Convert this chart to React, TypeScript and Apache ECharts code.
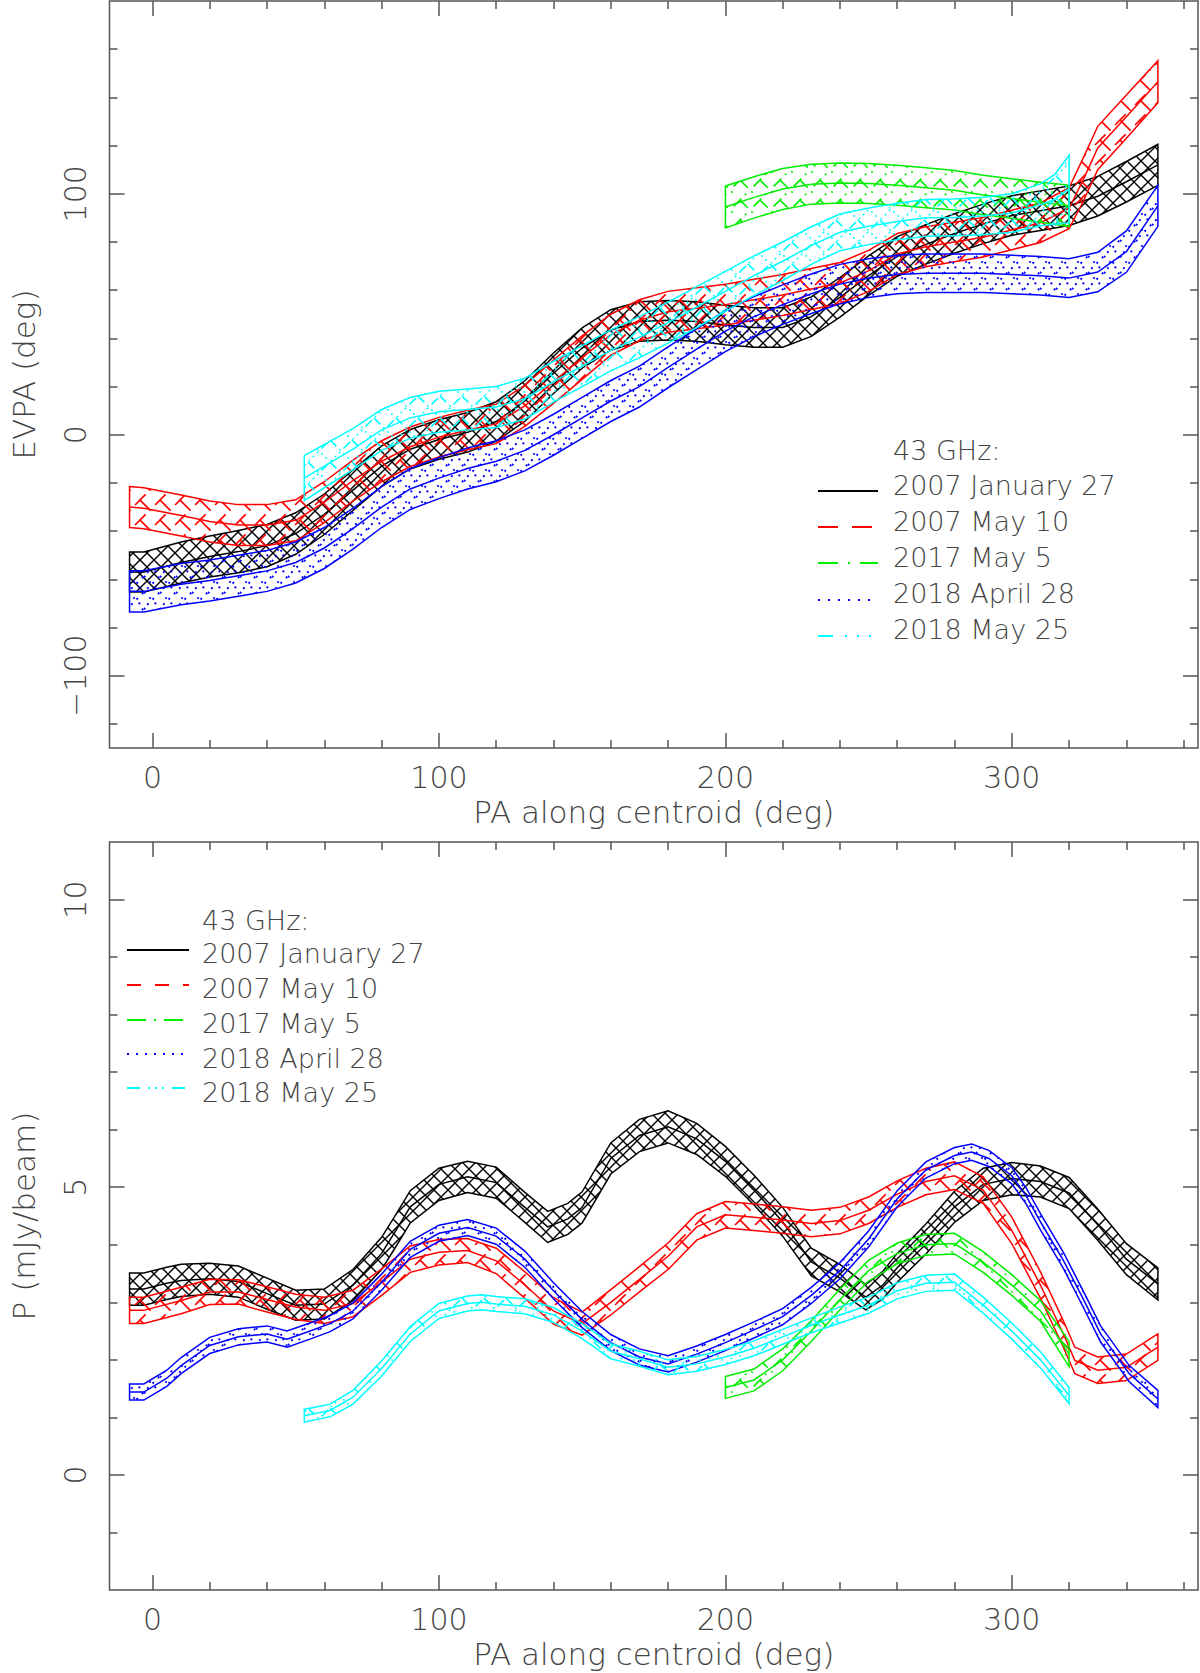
import React, { useEffect, useRef } from "react";
import * as echarts from "echarts";

// ---------- data: EVPA (top panel), centre value and half-width of each band ----------
const evBlackX = [-8, -3, 10, 20, 30, 40, 50, 60, 70, 80, 90, 100, 110, 120, 130, 140, 150, 160, 170, 180, 190, 200, 210, 220, 230, 240, 250, 260, 270, 280, 290, 300, 310, 320, 330, 340, 351];
const evBlackC = [-57, -57, -53, -50.5, -48.5, -46, -41, -33, -23, -13, -6, -2, 1, 5.5, 14, 25.5, 36, 43.5, 47, 47.5, 47, 45.5, 44.5, 44.5, 49, 57, 66, 74, 79, 83.5, 87.5, 91, 93, 95, 99, 105, 112];
const evBlackE = [8.3, 8.3, 8.5, 8.5, 8.8, 8.8, 8.6, 8.4, 8.4, 8.4, 8.2, 8.2, 8.2, 8.2, 8.4, 8.4, 8.4, 8.4, 8.2, 8.2, 8.2, 8.2, 8.2, 8.2, 8.2, 8.2, 8.2, 8.2, 8.2, 8.2, 8.2, 8.2, 8.2, 8.2, 8.2, 8.4, 8.5];

const evRedX = [-8, -3, 10, 20, 30, 40, 50, 60, 70, 80, 90, 100, 110, 120, 130, 140, 150, 160, 170, 180, 190, 200, 210, 220, 230, 240, 250, 260, 270, 280, 290, 300, 310, 320, 325, 330, 340, 351];
const evRedC = [-30, -30.5, -33.5, -36, -37.5, -37.5, -35.5, -28, -19, -11, -5, -1, 2, 4.5, 12, 22, 32, 41.5, 47.5, 51, 52.5, 54, 56, 58, 60.5, 63, 68, 75, 78, 80, 82, 85, 88, 94, 106, 119, 132, 146.5];
const evRedE = [8.5, 8.5, 8.5, 8.5, 8.5, 8.5, 8.5, 8.5, 8.5, 8.5, 8.2, 8.2, 8.2, 8.2, 8.5, 9, 9, 8.5, 8.5, 8.5, 8.5, 8.5, 8.5, 8.5, 8.5, 8.5, 8.5, 8.5, 8.3, 8.2, 8.2, 8.2, 8.2, 8.5, 9, 9, 9, 8.7];

const evGreenX = [200, 210, 220, 230, 240, 250, 260, 270, 280, 290, 300, 310, 320];
const evGreenC = [94.5, 98.5, 102, 104, 104.5, 104.3, 103.5, 102.5, 101.5, 99.5, 98, 96.5, 95];
const evGreenE = [8.7, 8.6, 8.5, 8.3, 8.3, 8.3, 8.3, 8.3, 8.2, 8.2, 8.2, 8.3, 8.6];

const evBlueX = [-8, -3, 10, 20, 30, 40, 50, 60, 70, 80, 90, 100, 110, 120, 130, 140, 150, 160, 170, 180, 190, 200, 210, 220, 230, 240, 250, 260, 270, 280, 290, 300, 310, 320, 330, 340, 351];
const evBlueC = [-65, -65, -62, -60.5, -58.5, -56.5, -53, -47, -39, -30, -22.5, -18, -14, -11, -6.5, 0, 7, 14, 20, 28, 35.5, 43, 49, 54, 58.5, 62.5, 65, 66.5, 67, 67, 67, 66.5, 66, 65, 67.5, 76, 95];
const evBlueE = [8.6, 8.6, 8.6, 8.5, 8.5, 8.5, 8.5, 8.5, 8.5, 8.5, 8.5, 8.5, 8.5, 8.5, 8.5, 8.5, 8.5, 8.5, 8.5, 8.5, 8.5, 8.5, 8.3, 8.2, 8.2, 8.2, 8.0, 8.0, 8.0, 8.0, 8.0, 8.0, 8.0, 8.0, 8.2, 8.6, 8.5];

const evCyanX = [53, 60, 70, 80, 90, 100, 110, 120, 130, 140, 150, 160, 170, 180, 190, 200, 210, 220, 230, 240, 250, 260, 270, 280, 290, 300, 310, 315, 320];
const evCyanC = [-18, -13, -6, 2, 7, 9.5, 10.5, 11.5, 15, 22, 28.5, 35, 40.5, 46.5, 53, 59.5, 66, 72, 78.5, 84, 86.5, 88.5, 90, 90.2, 90.8, 92, 95.4, 97.7, 102];
const evCyanE = [9.3, 9, 8.5, 8.5, 8.5, 8.5, 8.5, 8.5, 8.5, 8.5, 8.5, 8.5, 8.5, 8.5, 8.5, 8.3, 8.2, 8, 7.8, 7.6, 7.6, 7.6, 7.6, 7.6, 7.8, 8, 8.7, 10.3, 14];

// ---------- data: polarized intensity P (bottom panel) ----------
const pBlackX = [-8, -3, 5, 10, 20, 30, 40, 50, 60, 70, 80, 85, 90, 100, 110, 120, 130, 138, 145, 150, 160, 170, 180, 190, 200, 210, 220, 230, 240, 249, 255, 260, 270, 280, 290, 300, 310, 320, 330, 340, 351];
const pBlackC = [3.23, 3.23, 3.33, 3.38, 3.41, 3.36, 3.15, 2.95, 2.97, 3.3, 3.85, 4.25, 4.66, 5.05, 5.18, 5.08, 4.65, 4.31, 4.45, 4.65, 5.5, 5.9, 6.05, 5.84, 5.45, 4.95, 4.4, 3.7, 3.42, 3.09, 3.3, 3.6, 4.1, 4.66, 5.05, 5.15, 5.1, 4.9, 4.35, 3.75, 3.32];
const pBlackE = [0.28, 0.28, 0.28, 0.28, 0.27, 0.27, 0.27, 0.26, 0.26, 0.27, 0.28, 0.28, 0.28, 0.28, 0.27, 0.27, 0.26, 0.27, 0.27, 0.27, 0.27, 0.28, 0.28, 0.27, 0.26, 0.26, 0.25, 0.24, 0.24, 0.22, 0.24, 0.25, 0.26, 0.27, 0.28, 0.28, 0.27, 0.27, 0.27, 0.27, 0.28];

const pRedX = [-8, -3, 10, 20, 30, 40, 50, 60, 70, 80, 90, 100, 110, 120, 130, 140, 150, 160, 170, 180, 190, 200, 210, 220, 230, 240, 250, 260, 270, 280, 290, 300, 310, 318, 322, 330, 340, 351];
const pRedC = [2.86, 2.86, 3.03, 3.18, 3.18, 3.05, 2.92, 2.86, 2.98, 3.35, 3.75, 3.87, 3.9, 3.72, 3.3, 2.85, 2.63, 3.0, 3.4, 3.8, 4.31, 4.52, 4.48, 4.43, 4.37, 4.42, 4.6, 4.88, 5.1, 5.2, 4.95, 4.25, 3.3, 2.45, 1.99, 1.82, 1.87, 2.22];
const pRedE = [0.23, 0.23, 0.23, 0.22, 0.21, 0.22, 0.22, 0.23, 0.23, 0.23, 0.23, 0.22, 0.21, 0.22, 0.23, 0.23, 0.2, 0.22, 0.22, 0.23, 0.23, 0.23, 0.23, 0.23, 0.23, 0.23, 0.23, 0.23, 0.23, 0.24, 0.23, 0.23, 0.23, 0.23, 0.23, 0.23, 0.23, 0.23];

const pGreenX = [200, 210, 220, 230, 240, 250, 260, 270, 280, 290, 300, 310, 320];
const pGreenC = [1.52, 1.65, 2.0, 2.5, 3.05, 3.55, 3.85, 4.0, 4.02, 3.7, 3.3, 2.85, 2.1];
const pGreenE = [0.19, 0.19, 0.19, 0.18, 0.18, 0.18, 0.18, 0.18, 0.18, 0.18, 0.18, 0.18, 0.22];

const pBlueX = [-8, -3, 5, 10, 20, 30, 40, 47, 55, 62, 70, 80, 90, 100, 110, 120, 130, 140, 150, 160, 170, 180, 190, 200, 210, 220, 230, 240, 250, 260, 270, 280, 286, 292, 300, 305, 310, 318, 325, 331, 341, 351];
const pBlueC = [1.44, 1.44, 1.68, 1.9, 2.25, 2.4, 2.45, 2.36, 2.5, 2.63, 2.85, 3.35, 3.92, 4.2, 4.3, 4.15, 3.75, 3.2, 2.7, 2.3, 2.05, 1.93, 2.1, 2.3, 2.52, 2.75, 3.12, 3.55, 4.1, 4.8, 5.3, 5.55, 5.61, 5.5, 5.2, 4.85, 4.4, 3.73, 3.05, 2.45, 1.76, 1.32];
const pBlueE = [0.14, 0.14, 0.14, 0.14, 0.14, 0.14, 0.14, 0.14, 0.14, 0.14, 0.14, 0.14, 0.14, 0.14, 0.14, 0.14, 0.14, 0.14, 0.14, 0.14, 0.14, 0.14, 0.14, 0.14, 0.14, 0.14, 0.14, 0.14, 0.14, 0.14, 0.14, 0.14, 0.14, 0.14, 0.14, 0.14, 0.14, 0.14, 0.14, 0.14, 0.14, 0.15];

const pCyanX = [53, 58, 62, 70, 80, 90, 100, 110, 115, 120, 130, 140, 150, 160, 170, 180, 190, 200, 210, 220, 230, 240, 250, 260, 270, 280, 290, 300, 310, 320];
const pCyanC = [1.03, 1.08, 1.12, 1.35, 1.85, 2.45, 2.85, 2.98, 3.0, 2.97, 2.93, 2.78, 2.5, 2.15, 2.02, 1.87, 1.93, 2.05, 2.2, 2.4, 2.6, 2.78, 2.95, 3.2, 3.33, 3.35, 2.95, 2.5, 2.0, 1.38];
const pCyanE = [0.11, 0.11, 0.11, 0.12, 0.13, 0.13, 0.13, 0.13, 0.13, 0.13, 0.13, 0.13, 0.13, 0.13, 0.13, 0.13, 0.13, 0.13, 0.13, 0.13, 0.13, 0.14, 0.14, 0.14, 0.14, 0.14, 0.14, 0.14, 0.14, 0.14];

// ---------- axes ticks / labels ----------
const X_MAJOR = [0, 100, 200, 300];
const X_MINOR = [20, 40, 60, 80, 120, 140, 160, 180, 220, 240, 260, 280, 320, 340, 360];
const EV_MAJOR = [-100, 0, 100];
const EV_MINOR = [-120, -80, -60, -40, -20, 20, 40, 60, 80, 120, 140, 160];
const P_MAJOR = [0, 5, 10];
const P_MINOR = [-1, 1, 2, 3, 4, 6, 7, 8, 9];

const LEGEND_TITLE = "43 GHz:";
const EPOCHS = ["2007 January 27", "2007 May 10", "2017 May 5", "2018 April 28", "2018 May 25"];
const COLORS = ["#000000", "#ff0000", "#00ee00", "#0000ff", "#00ffff"];

// ---------- styling helpers ----------
const AX = "#555555";
const TXT = "#444444";
const FONT = "'DejaVu Sans', 'Liberation Sans', sans-serif";
const FW = 200;

function hatch(T: number, color: string, width: number, dash?: string, off1 = 0, off2 = 0) {
  const d1 = dash ? ` stroke-dasharray="${dash}" stroke-dashoffset="${off1}"` : "";
  const d2 = dash ? ` stroke-dasharray="${dash}" stroke-dashoffset="${off2}"` : "";
  let lines = "";
  for (let k = -1; k <= 1; k++) {
    lines += `<line x1="${-T}" y1="${(k - 1) * T}" x2="${2 * T}" y2="${(k + 2) * T}"${d1}/>`;
  }
  for (let k = 0; k <= 2; k++) {
    lines += `<line x1="${-T}" y1="${(k + 1) * T}" x2="${2 * T}" y2="${(k - 2) * T}"${d2}/>`;
  }
  const svg = `<svg xmlns="http://www.w3.org/2000/svg" width="${T}" height="${T}" viewBox="0 0 ${T} ${T}"><g stroke="${color}" stroke-width="${width}" fill="none" stroke-linecap="butt">${lines}</g></svg>`;
  return {
    image: "data:image/svg+xml;charset=utf-8," + encodeURIComponent(svg),
    repeat: "repeat",
    imageWidth: T,
    imageHeight: T,
  };
}

const PATTERNS = [
  hatch(14, "#000000", 1.4),
  hatch(20, "#ff0000", 1.6, "15 13.284", 0, 7),
  hatch(20, "#00ee00", 1.6, "11 5 2 10.284", 0, 9),
  hatch(16, "#0000ff", 1.9, "1.9 5.642", 0, 3),
  hatch(22, "#00ffff", 1.6, "9 4 1.8 4 1.8 4 1.8 4.713", 0, 12),
];

function bandSeries(name: string, idx: number, xs: number[], cs: number[], es: number[], axisIndex: number) {
  const data = xs.map((x, i) => [x, cs[i], es[i]]);
  const color = COLORS[idx];
  const pat = PATTERNS[idx];
  return {
    type: "custom",
    name,
    xAxisIndex: axisIndex,
    yAxisIndex: axisIndex,
    data,
    silent: true,
    encode: { x: 0, y: 1 },
    renderItem: (params: any, api: any) => {
      if (params.dataIndex !== 0) return null;
      const up = data.map((d) => api.coord([d[0], d[1] + d[2]]));
      const lo = data.map((d) => api.coord([d[0], d[1] - d[2]])).reverse();
      const mid = data.map((d) => api.coord([d[0], d[1]]));
      return {
        type: "group",
        children: [
          {
            type: "polygon",
            shape: { points: up.concat(lo) },
            style: { fill: pat, stroke: color, lineWidth: 1.5 },
          },
          {
            type: "polyline",
            shape: { points: mid },
            style: { fill: "none", stroke: color, lineWidth: 1.5 },
          },
        ],
      };
    },
  };
}

const tickStyle = { color: AX, width: 1.5 };
const labelFont = { color: TXT, fontSize: 30, fontFamily: FONT, fontWeight: FW };
const nameFont = { color: TXT, fontSize: 31, fontFamily: FONT, fontWeight: FW };

function xAxesFor(gridIndex: number) {
  const base = {
    type: "value",
    gridIndex,
    min: -15,
    max: 365,
    axisLine: { show: false, onZero: false },
    splitLine: { show: false },
  };
  return [
    {
      ...base,
      position: "bottom",
      axisTick: { show: true, inside: true, length: 15, customValues: X_MAJOR, lineStyle: tickStyle },
      axisLabel: { show: true, customValues: X_MAJOR, margin: 29, verticalAlign: "middle", ...labelFont },
      name: "PA along centroid (deg)",
      nameLocation: "middle",
      nameGap: 64,
      nameTextStyle: { ...nameFont, verticalAlign: "middle", align: "center" },
    },
    {
      ...base,
      position: "bottom",
      axisTick: { show: true, inside: true, length: 8, customValues: X_MINOR, lineStyle: tickStyle },
      axisLabel: { show: false },
    },
    {
      ...base,
      position: "top",
      axisTick: { show: true, inside: true, length: 15, customValues: X_MAJOR, lineStyle: tickStyle },
      axisLabel: { show: false },
    },
    {
      ...base,
      position: "top",
      axisTick: { show: true, inside: true, length: 8, customValues: X_MINOR, lineStyle: tickStyle },
      axisLabel: { show: false },
    },
  ];
}

function yAxesFor(gridIndex: number, min: number, max: number, major: number[], minor: number[], name: string) {
  const base = {
    type: "value",
    gridIndex,
    min,
    max,
    axisLine: { show: false, onZero: false },
    splitLine: { show: false },
  };
  return [
    {
      ...base,
      position: "left",
      axisTick: { show: true, inside: true, length: 15, customValues: major, lineStyle: tickStyle },
      axisLabel: {
        show: true,
        customValues: major,
        rotate: 90,
        margin: 34,
        align: "center",
        verticalAlign: "middle",
        formatter: (v: number) => (v < 0 ? "\u2212" + Math.abs(v) : String(v)),
        ...labelFont,
      },
      name,
      nameLocation: "middle",
      nameGap: 86,
      nameRotate: 90,
      nameTextStyle: { ...nameFont, verticalAlign: "middle", align: "center" },
    },
    {
      ...base,
      position: "left",
      axisTick: { show: true, inside: true, length: 8, customValues: minor, lineStyle: tickStyle },
      axisLabel: { show: false },
    },
    {
      ...base,
      position: "right",
      axisTick: { show: true, inside: true, length: 15, customValues: major, lineStyle: tickStyle },
      axisLabel: { show: false },
    },
    {
      ...base,
      position: "right",
      axisTick: { show: true, inside: true, length: 8, customValues: minor, lineStyle: tickStyle },
      axisLabel: { show: false },
    },
  ];
}

const legendFont = { fill: TXT, fontSize: 27, fontFamily: FONT, fontWeight: FW };

function legendGraphics(
  textX: number,
  titleY: number,
  rowYs: number[],
  lineX1: number,
  lineX2: number,
  lineYs: number[],
  dashes: (number[] | null)[]
) {
  const els: any[] = [
    {
      type: "text",
      x: textX,
      y: titleY,
      style: { text: LEGEND_TITLE, verticalAlign: "middle", align: "left", ...legendFont },
    },
  ];
  EPOCHS.forEach((label, i) => {
    els.push({
      type: "text",
      x: textX,
      y: rowYs[i],
      style: { text: label, verticalAlign: "middle", align: "left", ...legendFont },
    });
    els.push({
      type: "line",
      shape: { x1: lineX1, y1: lineYs[i], x2: lineX2, y2: lineYs[i] },
      style: { stroke: COLORS[i], lineWidth: 2, lineDash: dashes[i] || undefined },
    });
  });
  return els;
}

const bandsTop = [
  bandSeries(EPOCHS[0], 0, evBlackX, evBlackC, evBlackE, 0),
  bandSeries(EPOCHS[1], 1, evRedX, evRedC, evRedE, 0),
  bandSeries(EPOCHS[2], 2, evGreenX, evGreenC, evGreenE, 0),
  bandSeries(EPOCHS[3], 3, evBlueX, evBlueC, evBlueE, 0),
  bandSeries(EPOCHS[4], 4, evCyanX, evCyanC, evCyanE, 0),
];
const bandsBottom = [
  bandSeries(EPOCHS[0], 0, pBlackX, pBlackC, pBlackE, 4),
  bandSeries(EPOCHS[1], 1, pRedX, pRedC, pRedE, 4),
  bandSeries(EPOCHS[2], 2, pGreenX, pGreenC, pGreenE, 4),
  bandSeries(EPOCHS[3], 3, pBlueX, pBlueC, pBlueE, 4),
  bandSeries(EPOCHS[4], 4, pCyanX, pCyanC, pCyanE, 4),
];

function buildOption() {
  return {
    animation: false,
    backgroundColor: "#ffffff",
    grid: [
      { left: 101, top: 1, width: 1097, height: 747, show: true, borderColor: AX, borderWidth: 1.5, backgroundColor: "transparent" },
      { left: 101, top: 842, width: 1097, height: 748, show: true, borderColor: AX, borderWidth: 1.5, backgroundColor: "transparent" },
    ],
    xAxis: [...xAxesFor(0), ...xAxesFor(1)],
    yAxis: [
      ...yAxesFor(0, -130, 180, EV_MAJOR, EV_MINOR, "EVPA (deg)"),
      ...yAxesFor(1, -2, 11, P_MAJOR, P_MINOR, "P (mJy/beam)"),
    ],
    series: [...bandsTop, ...bandsBottom],
    graphic: [
      ...legendGraphics(
        893,
        450,
        [485, 521, 557, 593, 629],
        818,
        878,
        [491, 527, 563, 600, 636],
        [null, [20, 14], [20, 10, 2, 10], [2, 8], [15, 12, 2, 10, 2, 10, 2, 10]]
      ),
      ...legendGraphics(
        202,
        920,
        [953, 988, 1023, 1058, 1092],
        127,
        189,
        [950, 985, 1020, 1054, 1088],
        [null, [14, 14], [19, 8, 2, 8], [2, 7], [13, 8, 2, 5, 2, 5, 2, 8]]
      ),
    ],
  };
}

export default function App() {
  const ref = useRef<HTMLDivElement>(null);
  useEffect(() => {
    if (!ref.current) return;
    const chart = echarts.init(ref.current, null, { renderer: "svg" });
    chart.setOption(buildOption() as any);
    return () => {
      chart.dispose();
    };
  }, []);
  return (
    <div
      ref={ref}
      style={{ position: "absolute", left: 0, top: 0, width: 1200, height: 1673, background: "#fff" }}
    />
  );
}
